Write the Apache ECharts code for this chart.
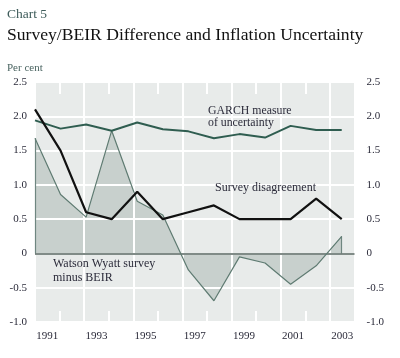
<!DOCTYPE html>
<html><head><meta charset="utf-8">
<script src="https://cdn.jsdelivr.net/npm/echarts@6/dist/echarts.min.js"></script>
<style>html,body{margin:0;padding:0;background:#fff}#c{width:400px;height:358px}</style>
</head><body><div id="c"></div>
<script>
const years = [1991,1992,1993,1994,1995,1996,1997,1998,1999,2000,2001,2002,2003];
const yearLabels = ['1991','1992','1993','1994','1995','1996','1997','1998','1999','2000','2001','2002','2003'];
const surveyDisagreement = [2.1, 1.5, 0.6, 0.5, 0.9, 0.5, 0.6, 0.7, 0.5, 0.5, 0.5, 0.8, 0.5];
const garch = [1.94, 1.82, 1.88, 1.79, 1.91, 1.81, 1.78, 1.68, 1.74, 1.69, 1.86, 1.80, 1.80];
const watsonMinusBeir = [1.68, 0.86, 0.53, 1.79, 0.76, 0.56, -0.24, -0.69, -0.05, -0.14, -0.45, -0.18, 0.25];
const yTicks = [-1.0, -0.5, 0, 0.5, 1.0, 1.5, 2.0, 2.5];

const pairs = v => years.map((y, i) => [y, v[i]]);
const serif = '"Liberation Serif", "DejaVu Serif", serif';
const fmt = v => v === 0 ? '0' : v.toFixed(1);
const last = years.length - 1;
const minorTick = (i) => i % 2 === 1 && i < last;

const chart = echarts.init(document.getElementById('c'), null, {renderer: 'canvas'});
chart.setOption({
  animation: false,
  backgroundColor: '#fff',
  title: [
    {text: 'Chart 5', left: 7, top: 7, padding: 0, textStyle: {fontFamily: serif, fontSize: 13.5, fontWeight: 'normal', color: '#3e5c5a'}},
    {text: 'Survey/BEIR Difference and Inflation Uncertainty', left: 7, top: 26, padding: 0, textStyle: {fontFamily: serif, fontSize: 17.6, fontWeight: 'normal', color: '#111'}},
    {text: 'Per cent', left: 7, top: 63, padding: 0, textStyle: {fontFamily: serif, fontSize: 11, fontWeight: 'normal', color: '#4a6461'}}
  ],
  grid: {left: 35, right: 45.5, top: 82, bottom: 36, show: true, backgroundColor: '#e8ebea', borderWidth: 0},
  xAxis: [
    {type: 'category', data: yearLabels, boundaryGap: true, position: 'bottom', z: 3,
     axisLine: {show: true, onZero: false, lineStyle: {color: 'rgba(0,0,0,0)'}},
     axisTick: {show: true, inside: true, length: 11, interval: minorTick, lineStyle: {color: '#fff', width: 2}},
     axisLabel: {interval: 1, margin: 9, fontFamily: serif, fontSize: 11, color: '#2b2b3a'},
     splitLine: {show: true, interval: (i) => i % 2 === 0, lineStyle: {color: '#fff', width: 2}}},
    {type: 'category', data: yearLabels, boundaryGap: true, position: 'top', z: 3,
     axisLine: {show: true, onZero: false, lineStyle: {color: 'rgba(0,0,0,0)'}},
     axisTick: {show: true, inside: true, length: 12, interval: minorTick, lineStyle: {color: '#fff', width: 2}},
     axisLabel: {show: false}, splitLine: {show: false}},
    {type: 'value', min: years[0], max: years[last] + 0.5, show: false, position: 'bottom', axisLine: {onZero: false}}
  ],
  yAxis: [
    {type: 'value', min: yTicks[0], max: yTicks[yTicks.length - 1], interval: 0.5, position: 'left', z: 3,
     axisLine: {show: false, onZero: false}, axisTick: {show: false},
     axisLabel: {margin: 8, formatter: fmt, fontFamily: serif, fontSize: 11, color: '#2b2b3a'},
     splitLine: {show: true, lineStyle: {color: '#fff', width: 2}}},
    {type: 'value', min: yTicks[0], max: yTicks[yTicks.length - 1], interval: 0.5, position: 'right', z: 3,
     axisLine: {show: false, onZero: false}, axisTick: {show: false},
     axisLabel: {margin: 12, formatter: fmt, fontFamily: serif, fontSize: 11, color: '#2b2b3a'},
     splitLine: {show: false}}
  ],
  series: [
    {name: 'Watson area', type: 'line', xAxisIndex: 2, yAxisIndex: 0, z: 1, data: pairs(watsonMinusBeir),
     symbol: 'none', lineStyle: {width: 0}, areaStyle: {color: '#c8d0cd', opacity: 1, origin: 'auto'}, silent: true},
    {name: 'Watson Wyatt survey minus BEIR', type: 'line', xAxisIndex: 2, yAxisIndex: 0, z: 5, data: pairs(watsonMinusBeir),
     symbol: 'none', lineStyle: {color: '#5f7b72', width: 1.2},
     markLine: {silent: true, symbol: 'none', label: {show: false}, animation: false,
       data: [
         [{coord: [years[0], 0]}, {coord: [years[0], watsonMinusBeir[0]]}],
         [{coord: [years[last], 0]}, {coord: [years[last], watsonMinusBeir[last]]}]
       ],
       lineStyle: {color: '#6f8680', width: 1.2, type: 'solid'}}},
    {name: 'zero', type: 'line', xAxisIndex: 2, yAxisIndex: 0, z: 4, data: [],
     markLine: {silent: true, symbol: 'none', label: {show: false}, animation: false,
       data: [{yAxis: 0}], lineStyle: {color: '#56645f', width: 1.5, type: 'solid'}}},
    {name: 'GARCH measure of uncertainty', type: 'line', xAxisIndex: 2, yAxisIndex: 0, z: 6, data: pairs(garch),
     symbol: 'none', lineStyle: {color: '#2f5d50', width: 2}},
    {name: 'Survey disagreement', type: 'line', xAxisIndex: 2, yAxisIndex: 0, z: 7, data: pairs(surveyDisagreement),
     symbol: 'none', lineStyle: {color: '#111', width: 2.2}}
  ],
  graphic: [
    {type: 'text', left: 208, top: 105, z: 10, style: {text: 'GARCH measure\nof uncertainty', font: '11.8px ' + serif, fill: '#2b2b3a', lineHeight: 12}},
    {type: 'text', left: 215, top: 182, z: 10, style: {text: 'Survey disagreement', font: '12px ' + serif, fill: '#2b2b3a'}},
    {type: 'text', left: 53, top: 257, z: 10, style: {text: 'Watson Wyatt survey\nminus BEIR', font: '12px ' + serif, fill: '#2b2b3a', lineHeight: 14}}
  ]
});
</script></body></html>
